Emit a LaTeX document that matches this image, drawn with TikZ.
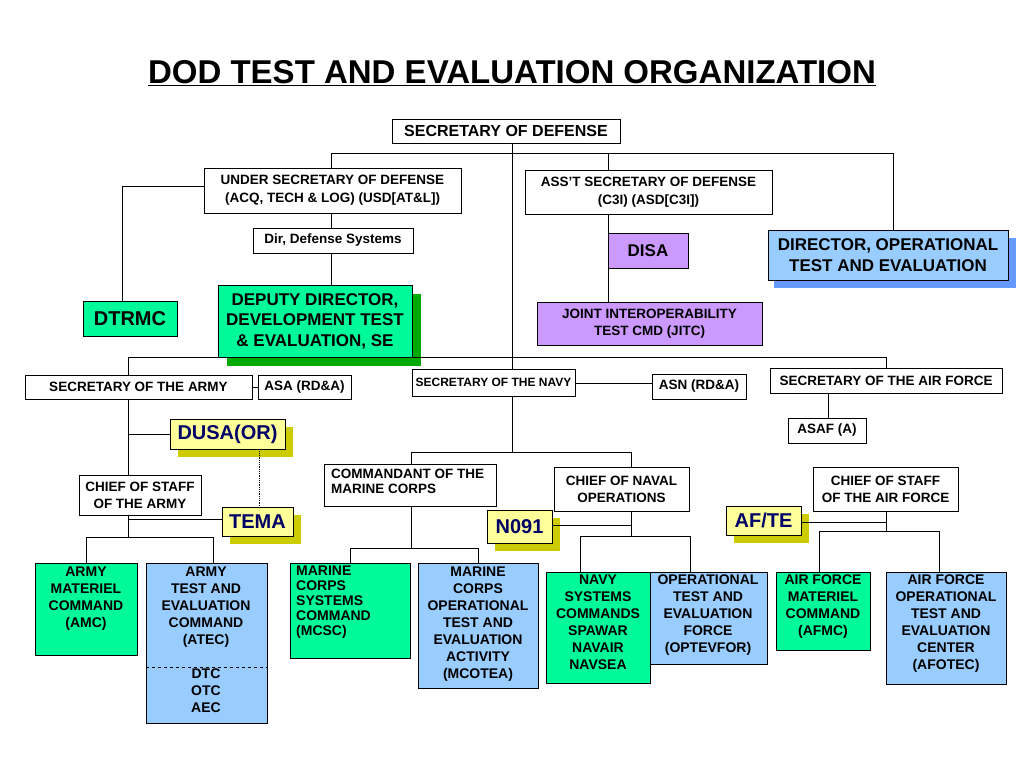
\documentclass[tikz,border=0pt]{standalone}
\usepackage{fontspec}
\setmainfont{Liberation Sans}
\definecolor{cgrn}{RGB}{0,250,154}
\definecolor{cgrnd}{RGB}{0,170,0}
\definecolor{cblu}{RGB}{153,204,255}
\definecolor{cblud}{RGB}{102,153,255}
\definecolor{cpur}{RGB}{204,153,255}
\definecolor{cyel}{RGB}{255,255,153}
\definecolor{cyeld}{RGB}{204,204,0}
\definecolor{cnavy}{RGB}{0,0,102}
\begin{document}
\begin{tikzpicture}[x=1pt,y=-1pt,font=\bfseries,
  box/.style={draw=black,line width=0.8pt,inner sep=1pt,align=center,font=\fontsize{13.5}{17}\selectfont\bfseries},
  lbl/.style={draw=none,inner sep=1pt,align=center,anchor=north,font=\fontsize{14}{17}\selectfont\bfseries},
  big/.style={font=\fontsize{17}{20.5}\selectfont\bfseries},
  ybig/.style={font=\fontsize{20}{22}\selectfont\bfseries},
  grn/.style={fill=cgrn},
  blu/.style={fill=cblu},
  pur/.style={fill=cpur},
  yel/.style={fill=cyel,text=cnavy},
  ln/.style={draw=black,line width=0.8pt}]
\useasboundingbox (0,0) rectangle (1024,768);
\newcommand\bx[7]{\node[box,#6,minimum width={#4-#2},minimum height={#5-#3}] (#1) at ({(#2+#4)/2},{(#3+#5)/2}) {#7};}
\node[font=\fontsize{33}{36}\selectfont\bfseries] (title) at (512,73) {\underline{DOD TEST AND EVALUATION ORGANIZATION}};
% shadows
\fill[cgrnd] (227,294) rectangle (421,366);
\fill[cblud] (774,238) rectangle (1016,288);
\foreach \l/\t/\r/\b in {178/427/293/457, 230/515/301/544, 495/518/560/551, 734/514/809/543}
  \fill[cyeld] (\l,\t) rectangle (\r,\b);
\bx{secdef}{392}{119}{620}{143}{fill=white,font=\fontsize{16}{18}\selectfont\bfseries}{SECRETARY OF DEFENSE}
\bx{usd}{204}{168}{461}{213}{fill=white,font=\fontsize{13.5}{18}\selectfont\bfseries}{UNDER SECRETARY OF DEFENSE\\(ACQ, TECH \& LOG) (USD[AT\&L])}
\bx{dds}{253}{228}{413}{253}{fill=white}{Dir, Defense Systems}
\bx{dtrmc}{83}{301}{177}{336}{grn,ybig}{DTRMC}
\bx{dep}{218}{285}{412}{357}{grn,big}{DEPUTY DIRECTOR,\\DEVELOPMENT TEST\\\& EVALUATION, SE}
\bx{asd}{525}{170}{772}{214}{fill=white,font=\fontsize{13.5}{18}\selectfont\bfseries}{ASS'T SECRETARY OF DEFENSE\\(C3I) (ASD[C3I])}
\bx{disa}{608}{233}{688}{268}{pur,big}{DISA}
\bx{jitc}{537}{302}{762}{345}{pur}{JOINT INTEROPERABILITY\\TEST CMD (JITC)}
\bx{dote}{768}{230}{1008}{280}{blu,big}{DIRECTOR, OPERATIONAL\\TEST AND EVALUATION}
\bx{army}{25}{375}{252}{399}{fill=white}{SECRETARY OF THE ARMY}
\bx{asa}{258}{375}{351}{399}{fill=white}{ASA (RD\&A)}
\bx{navy}{412}{369}{575}{396}{fill=white,font=\fontsize{12}{14}\selectfont\bfseries}{SECRETARY OF THE NAVY}
\bx{asn}{652}{374}{746}{399}{fill=white}{ASN (RD\&A)}
\bx{af}{770}{368}{1002}{393}{fill=white}{SECRETARY OF THE AIR FORCE}
\bx{asaf}{788}{418}{866}{443}{fill=white}{ASAF (A)}
\bx{dusa}{170}{419}{285}{449}{yel,ybig}{DUSA(OR)}
\bx{csa}{79}{475}{201}{515}{fill=white}{CHIEF OF STAFF\\OF THE ARMY}
\bx{tema}{222}{507}{293}{536}{yel,ybig}{TEMA}
\bx{cmc}{324}{464}{496}{506}{fill=white}{}
\node[lbl,anchor=north west,align=left,font=\fontsize{13.5}{15}\selectfont\bfseries] (cmct) at (330,468) {COMMANDANT OF THE\\MARINE CORPS};
\bx{cno}{554}{467}{689}{511}{fill=white}{CHIEF OF NAVAL\\OPERATIONS}
\bx{n091}{487}{510}{552}{543}{yel,ybig}{N091}
\bx{csaf}{813}{467}{958}{511}{fill=white}{CHIEF OF STAFF\\OF THE AIR FORCE}
\bx{afte}{726}{506}{801}{535}{yel,ybig}{AF/TE}
\bx{amc}{35}{563}{137}{655}{grn}{}
\node[lbl] (amct) at (86,566) {ARMY\\MATERIEL\\COMMAND\\(AMC)};
\bx{atec}{146}{563}{267}{723}{blu}{}
\node[lbl] (atect) at (206,566) {ARMY\\TEST AND\\EVALUATION\\COMMAND\\(ATEC)};
\node[lbl] (atecb) at (206,668) {DTC\\OTC\\AEC};
\draw[ln,dashed] (atec.west |- 0,667) -- (atec.east |- 0,667);
\bx{mcsc}{290}{563}{410}{658}{grn}{}
\node[lbl,align=left,anchor=north west,font=\fontsize{14}{15}\selectfont\bfseries] (mcsct) at (295,565) {MARINE\\CORPS\\SYSTEMS\\COMMAND\\(MCSC)};
\bx{mcotea}{418}{563}{538}{688}{blu}{}
\node[lbl] (mcoteat) at (478,566) {MARINE\\CORPS\\OPERATIONAL\\TEST AND\\EVALUATION\\ACTIVITY\\(MCOTEA)};
\bx{nsc}{546}{572}{650}{683}{grn}{}
\node[lbl] (nsct) at (598,574) {NAVY\\SYSTEMS\\COMMANDS\\SPAWAR\\NAVAIR\\NAVSEA};
\bx{opt}{650}{572}{767}{664}{blu}{}
\node[lbl] (optt) at (708,574) {OPERATIONAL\\TEST AND\\EVALUATION\\FORCE\\(OPTEVFOR)};
\bx{afmc}{776}{572}{870}{650}{grn}{}
\node[lbl] (afmct) at (823,574) {AIR FORCE\\MATERIEL\\COMMAND\\(AFMC)};
\bx{afotec}{886}{572}{1006}{684}{blu}{}
\node[lbl] (afotect) at (946,574) {AIR FORCE\\OPERATIONAL\\TEST AND\\EVALUATION\\CENTER\\(AFOTEC)};
% connectors
\draw[ln] (secdef.south -| 512,0) -- (navy.north -| 512,0);
\draw[ln] (usd.north -| 331,0) -- (331,153) -- (893,153) -- (dote.north -| 893,0);
\draw[ln] (asd.north -| 608,0) -- (608,153);
\draw[ln] (usd.west |- 0,186) -- (122,186) -- (dtrmc.north -| 122,0);
\draw[ln] (usd.south -| 331,0) -- (dds.north -| 331,0);
\draw[ln] (dds.south -| 331,0) -- (dep.north -| 331,0);
\draw[ln] (asd.south -| 608,0) -- (disa.north -| 608,0);
\draw[ln] (disa.south -| 608,0) -- (jitc.north -| 608,0);
\draw[ln] (army.north -| 128,0) -- (128,357) -- (886,357) -- (af.north -| 886,0);
\draw[ln] (army.east) -- (asa.west);
\draw[ln] (navy.east |- 0,383) -- (asn.west |- 0,383);
\draw[ln] (af.south -| 828,0) -- (asaf.north -| 828,0);
\draw[ln] (army.south -| 128,0) -- (csa.north -| 128,0);
\draw[ln] (128,434) -- (dusa.west |- 0,434);
\draw[ln,densely dotted] (dusa.south -| 259,0) -- (tema.north -| 259,0);
\draw[ln] (csa.south -| 128,0) -- (128,537);
\draw[ln] (tema.west |- 0,519) -- (128,519);
\draw[ln] (amc.north -| 86,0) -- (86,537) -- (213,537) -- (atec.north -| 213,0);
\draw[ln] (navy.south -| 512,0) -- (512,452);
\draw[ln] (cmc.north -| 411,0) -- (411,452) -- (631,452) -- (cno.north -| 631,0);
\draw[ln] (cmc.south -| 411,0) -- (411,548);
\draw[ln] (mcsc.north -| 350,0) -- (350,548) -- (478,548) -- (mcotea.north -| 478,0);
\draw[ln] (cno.south -| 631,0) -- (631,536);
\draw[ln] (n091.east |- 0,525) -- (631,525);
\draw[ln] (nsc.north -| 580,0) -- (580,536) -- (690,536) -- (opt.north -| 690,0);
\draw[ln] (csaf.south -| 886,0) -- (886,531);
\draw[ln] (afte.east |- 0,522) -- (886,522);
\draw[ln] (afmc.north -| 819,0) -- (819,531) -- (939,531) -- (afotec.north -| 939,0);
\end{tikzpicture}
\end{document}
